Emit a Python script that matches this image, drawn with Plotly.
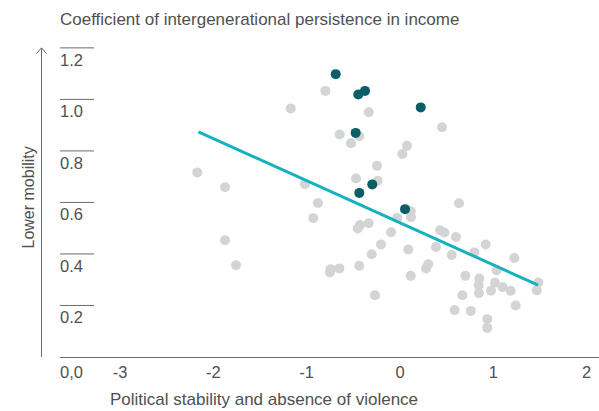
import plotly.graph_objects as go

# Political stability index (x) vs. intergenerational income persistence (y)
other_x = [-0.800, -1.171, -0.335, -0.646, -0.436, -0.525, -2.172, -1.875, -1.018, -0.471,
           -0.246, -0.239, -0.879, 0.450, 0.075, 0.025, 0.632, -0.929, -0.429, -0.453,
           -0.335, -1.875, -1.757, -0.204, -0.303, -0.743, -0.750, -0.650, -0.436, -0.268,
           -0.096, 0.115, 0.118, -0.029, 0.089, 0.429, 0.475, 0.600, 0.386, 0.554,
           0.918, 0.796, 1.225, 1.036, 0.303, 0.279, 0.115, 0.700, 0.850, 0.843,
           1.018, 1.100, 0.975, 1.186, 0.846, 1.482, 1.465, 0.668, 1.240, 0.586,
           0.758, 0.935, 0.935]
other_y = [1.033, 0.965, 0.950, 0.864, 0.857, 0.830, 0.716, 0.659, 0.671, 0.693,
           0.742, 0.684, 0.598, 0.892, 0.820, 0.788, 0.597, 0.539, 0.512, 0.499,
           0.519, 0.453, 0.356, 0.437, 0.399, 0.341, 0.328, 0.344, 0.354, 0.240,
           0.484, 0.566, 0.543, 0.540, 0.417, 0.492, 0.483, 0.466, 0.427, 0.396,
           0.437, 0.406, 0.384, 0.337, 0.360, 0.344, 0.315, 0.315, 0.305, 0.279,
           0.288, 0.271, 0.257, 0.257, 0.248, 0.289, 0.259, 0.240, 0.200, 0.182,
           0.179, 0.147, 0.113]

highlight_x = [-0.689, -0.447, -0.375, -0.475, -0.297, -0.436, 0.222, 0.054]
highlight_y = [1.098, 1.019, 1.033, 0.870, 0.670, 0.637, 0.969, 0.574]

trend_x = [-2.16, 1.48]
trend_y = [0.874, 0.279]

x_ticks = [-3, -2, -1, 0, 1, 2]
y_ticks = [0.2, 0.4, 0.6, 0.8, 1.0, 1.2]
y_tick_text = ["0.2", "0.4", "0.6", "0.8", "1.0", "1.2"]

title_text = "Coefficient of intergenerational persistence in income"
x_title = "Political stability and absence of violence"
y_title = "Lower mobility"

W, H = 599, 411
ML, MR, MT, MB = 60, 0, 40, 54
PW, PH = W - ML - MR, H - MT - MB

FONT = "Liberation Sans, Arial, sans-serif"
TXT = "#505050"
AXIS = "#6b6b6b"
TICK_SIZE = 16.5
TITLE_SIZE = 17


def px_x(px):
    return (px - ML) / PW


def px_y(py):
    return (H - MB - py) / PH


fig = go.Figure()

fig.add_trace(go.Scatter(
    x=other_x, y=other_y, mode="markers",
    marker=dict(size=10, color="#d3d4d6", line=dict(width=0)),
    hoverinfo="skip", showlegend=False))

fig.add_trace(go.Scatter(
    x=trend_x, y=trend_y, mode="lines",
    line=dict(color="#14b1bf", width=3),
    hoverinfo="skip", showlegend=False))

fig.add_trace(go.Scatter(
    x=highlight_x, y=highlight_y, mode="markers",
    marker=dict(size=10, color="#0a5e66", line=dict(width=0)),
    hoverinfo="skip", showlegend=False))

shapes = []
annotations = []

# short rules above each y value label
for v, t in zip(y_ticks, y_tick_text):
    shapes.append(dict(type="line", xref="paper", yref="y",
                       x0=0, x1=px_x(94), y0=v, y1=v,
                       line=dict(color=AXIS, width=1)))
    annotations.append(dict(xref="paper", yref="y", x=0, y=v,
                            xanchor="left", yanchor="middle", yshift=-12, xshift=-2,
                            text=t, showarrow=False,
                            font=dict(family=FONT, size=TICK_SIZE, color=TXT)))

# zero label sits in the x tick row
annotations.append(dict(xref="paper", yref="y", x=0, y=0,
                        xanchor="left", yanchor="middle", yshift=-15, xshift=-2,
                        text="0,0", showarrow=False,
                        font=dict(family=FONT, size=TICK_SIZE, color=TXT)))

# vertical arrow for the y direction
ax_px = 41.5
shapes.append(dict(type="line", xref="paper", yref="y",
                   x0=px_x(ax_px), x1=px_x(ax_px), y0=0, y1=1.2,
                   line=dict(color=AXIS, width=1)))
for dx in (-5, 5):
    shapes.append(dict(type="line", xref="paper", yref="y",
                       x0=px_x(ax_px), x1=px_x(ax_px + dx), y0=1.2, y1=1.178,
                       line=dict(color=AXIS, width=1)))

annotations.append(dict(xref="paper", yref="paper", x=px_x(27.5), y=px_y(198),
                        xanchor="center", yanchor="middle", textangle=-90,
                        text=y_title, showarrow=False,
                        font=dict(family=FONT, size=16, color=TXT)))

annotations.append(dict(xref="paper", yref="paper", x=px_x(58), y=px_y(19.5),
                        xanchor="left", yanchor="middle",
                        text=title_text, showarrow=False,
                        font=dict(family=FONT, size=TITLE_SIZE, color=TXT)))

annotations.append(dict(xref="paper", yref="paper", x=px_x(108), y=px_y(411),
                        xanchor="left", yanchor="bottom",
                        text=x_title, showarrow=False,
                        font=dict(family=FONT, size=TITLE_SIZE, color=TXT)))

fig.update_layout(
    width=W, height=H,
    margin=dict(l=ML, r=MR, t=MT, b=MB, pad=0),
    paper_bgcolor="white", plot_bgcolor="white",
    shapes=shapes, annotations=annotations,
    xaxis=dict(range=[(ML - 400) / 93.33, (W - MR - 400) / 93.33],
               tickvals=x_ticks, ticktext=[str(v) for v in x_ticks],
               showline=True, linecolor=AXIS, linewidth=1.2,
               showgrid=False, zeroline=False, ticks="",
               tickfont=dict(family=FONT, size=TICK_SIZE, color=TXT)),
    yaxis=dict(range=[0, (H - MB - MT) / 257.6], visible=False,
               showgrid=False, zeroline=False),
)

fig.write_html("out.html")
